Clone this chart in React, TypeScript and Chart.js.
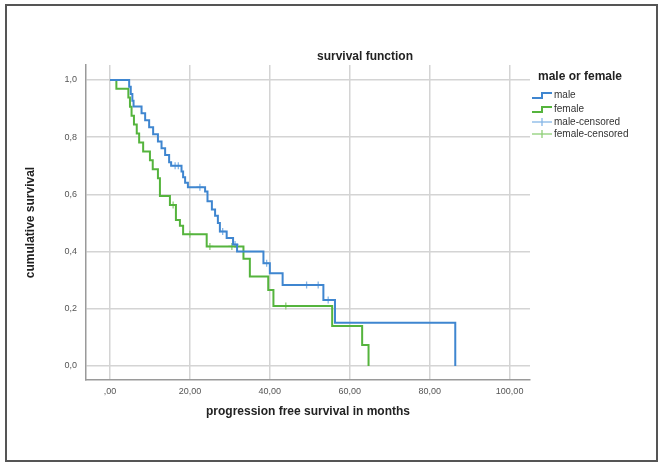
import React, { useEffect, useRef } from 'react';
import { Chart, registerables } from 'chart.js';

Chart.register(...registerables);

// Kaplan-Meier step data (event times in months, cumulative survival after the event)
const maleTimes = [0, 4.8, 5.2, 5.6, 5.9, 7.9, 8.8, 9.8, 10.8, 12.0, 12.9, 13.8, 14.8, 15.3, 17.9, 18.3, 18.8, 19.5, 23.8, 24.4, 25.5, 26.3, 27.0, 27.5, 29.2, 30.8, 31.8, 38.4, 40.0, 43.2, 53.4, 56.3, 86.4];
const maleSurvival = [1.0, 0.976, 0.951, 0.927, 0.907, 0.883, 0.859, 0.834, 0.81, 0.785, 0.761, 0.737, 0.712, 0.7, 0.68, 0.66, 0.64, 0.625, 0.61, 0.576, 0.547, 0.525, 0.5, 0.47, 0.447, 0.425, 0.4, 0.359, 0.324, 0.283, 0.231, 0.151, 0];

const femaleTimes = [0, 1.6, 4.6, 5.0, 5.4, 6.0, 6.7, 7.3, 8.3, 10.0, 10.7, 12.0, 12.5, 15.0, 16.5, 17.5, 18.3, 24.2, 33.4, 35.0, 39.6, 40.9, 55.6, 63.1, 64.7];
const femaleSurvival = [1.0, 0.969, 0.938, 0.906, 0.875, 0.844, 0.813, 0.781, 0.75, 0.719, 0.688, 0.656, 0.594, 0.563, 0.51, 0.49, 0.46, 0.418, 0.375, 0.313, 0.266, 0.21, 0.14, 0.073, 0];

const maleCensoredTimes = [16.3, 17.1, 22.5, 28.2, 31.3, 39.2, 49.2, 52.1, 54.6];
const maleCensoredSurvival = [0.7, 0.7, 0.625, 0.47, 0.425, 0.359, 0.283, 0.283, 0.231];

const femaleCensoredTimes = [15.8, 20.0, 25.0, 30.5, 44.0];
const femaleCensoredSurvival = [0.563, 0.46, 0.418, 0.418, 0.21];

const xTicks = [0, 20, 40, 60, 80, 100];
const yTicks = [0, 0.2, 0.4, 0.6, 0.8, 1.0];

const seriesLabels = ['male', 'female', 'male-censored', 'female-censored'];
const chartTitle = 'survival function';
const legendTitle = 'male or female';
const xTitle = 'progression free survival in months';
const yTitle = 'cumulative survival';

const BLUE = '#3f86d0';
const GREEN = '#55b43d';
const LIGHT_BLUE = '#86b6e6';
const LIGHT_GREEN = '#8fcf78';
const FONT = '"Liberation Sans", Arial, sans-serif';

const toPoints = (xs: number[], ys: number[]) => xs.map((x, i) => ({ x, y: ys[i] }));

function LegendIcon({ kind, color }: { kind: 'step' | 'cross'; color: string }) {
  return (
    <svg width={21} height={12} style={{ position: 'absolute', left: 0, top: 0 }}>
      {kind === 'step' ? (
        <path d="M1 9 H11 V4 H21" fill="none" stroke={color} strokeWidth={2} />
      ) : (
        <g stroke={color} strokeWidth={1.3}>
          <line x1={1} y1={6} x2={21} y2={6} />
          <line x1={11} y1={2} x2={11} y2={10} />
        </g>
      )}
    </svg>
  );
}

export default function App() {
  const canvasRef = useRef<HTMLCanvasElement | null>(null);

  useEffect(() => {
    if (!canvasRef.current) return;
    const chart = new Chart(canvasRef.current, {
      type: 'line',
      data: {
        datasets: [
          {
            label: seriesLabels[0],
            data: toPoints(maleTimes, maleSurvival),
            stepped: true,
            borderColor: BLUE,
            borderWidth: 2,
            pointRadius: 0,
            fill: false,
          },
          {
            label: seriesLabels[1],
            data: toPoints(femaleTimes, femaleSurvival),
            stepped: true,
            borderColor: GREEN,
            borderWidth: 2,
            pointRadius: 0,
            fill: false,
          },
          {
            label: seriesLabels[2],
            data: toPoints(maleCensoredTimes, maleCensoredSurvival),
            showLine: false,
            pointStyle: 'cross',
            pointRadius: 3.5,
            borderColor: LIGHT_BLUE,
            borderWidth: 1.3,
          },
          {
            label: seriesLabels[3],
            data: toPoints(femaleCensoredTimes, femaleCensoredSurvival),
            showLine: false,
            pointStyle: 'cross',
            pointRadius: 3.5,
            borderColor: LIGHT_GREEN,
            borderWidth: 1.3,
          },
        ],
      },
      options: {
        responsive: false,
        animation: false,
        parsing: true,
        layout: { padding: { left: 19, right: 134, top: 65, bottom: 45 } },
        plugins: {
          legend: { display: false },
          title: { display: false },
          tooltip: { enabled: false },
        },
        scales: {
          x: {
            type: 'linear',
            min: -6,
            max: 105.1,
            afterFit: (s: any) => {
              s.height = 43;
            },
            afterBuildTicks: (s: any) => {
              s.ticks = xTicks.map((v) => ({ value: v }));
            },
            ticks: {
              stepSize: 20,
              includeBounds: false,
              autoSkip: false,
              maxRotation: 0,
              padding: 6,
              color: '#555',
              font: { family: FONT, size: 9 },
              callback: (v: any) => (v === 0 ? ',00' : Number(v).toFixed(2).replace('.', ',')),
            },
            grid: { color: '#d4d4d4', lineWidth: 1.5, drawTicks: false },
            border: { color: '#9a9a9a', width: 1.5 },
            title: {
              display: true,
              text: xTitle,
              color: '#222',
              font: { family: FONT, size: 12, weight: 'bold' },
              padding: { top: 4, bottom: 4 },
            },
          },
          y: {
            type: 'linear',
            min: -0.049,
            max: 1.052,
            afterFit: (s: any) => {
              s.width = 67;
            },
            afterBuildTicks: (s: any) => {
              s.ticks = yTicks.map((v) => ({ value: v }));
            },
            ticks: {
              stepSize: 0.2,
              includeBounds: false,
              autoSkip: false,
              padding: 9,
              color: '#555',
              font: { family: FONT, size: 9 },
              callback: (v: any) => Number(v).toFixed(1).replace('.', ','),
            },
            grid: { color: '#d4d4d4', lineWidth: 1.5, drawTicks: false },
            border: { color: '#9a9a9a', width: 1.5 },
            title: {
              display: true,
              text: yTitle,
              color: '#222',
              font: { family: FONT, size: 12, weight: 'bold' },
              padding: { top: 4, bottom: 4 },
            },
          },
        },
      } as any,
    });
    return () => chart.destroy();
  }, []);

  const legendRows = [
    { label: seriesLabels[0], kind: 'step' as const, color: BLUE, top: 89 },
    { label: seriesLabels[1], kind: 'step' as const, color: GREEN, top: 102.5 },
    { label: seriesLabels[2], kind: 'cross' as const, color: LIGHT_BLUE, top: 115.5 },
    { label: seriesLabels[3], kind: 'cross' as const, color: LIGHT_GREEN, top: 128 },
  ];

  return (
    <div style={{ position: 'absolute', left: 0, top: 0, width: 664, height: 468, background: '#fff', fontFamily: FONT }}>
      <div
        style={{
          position: 'absolute',
          left: 5,
          top: 4,
          width: 653,
          height: 458,
          boxSizing: 'border-box',
          border: '2px solid #555',
        }}
      />
      <canvas ref={canvasRef} width={664} height={468} style={{ position: 'absolute', left: 0, top: 0, display: 'block' }} />
      <div
        style={{
          position: 'absolute',
          left: 265,
          top: 49,
          width: 200,
          textAlign: 'center',
          fontSize: 12,
          lineHeight: '15px',
          fontWeight: 'bold',
          color: '#222',
        }}
      >
        {chartTitle}
      </div>
      <div
        style={{
          position: 'absolute',
          left: 538,
          top: 69,
          fontSize: 12,
          lineHeight: '15px',
          fontWeight: 'bold',
          color: '#222',
          whiteSpace: 'nowrap',
        }}
      >
        {legendTitle}
      </div>
      {legendRows.map((r) => (
        <div key={r.label} style={{ position: 'absolute', left: 531, top: r.top, height: 12, width: 120 }}>
          <LegendIcon kind={r.kind} color={r.color} />
          <span
            style={{
              position: 'absolute',
              left: 23,
              top: 0,
              fontSize: 10,
              lineHeight: '12px',
              color: '#333',
              whiteSpace: 'nowrap',
            }}
          >
            {r.label}
          </span>
        </div>
      ))}
    </div>
  );
}
